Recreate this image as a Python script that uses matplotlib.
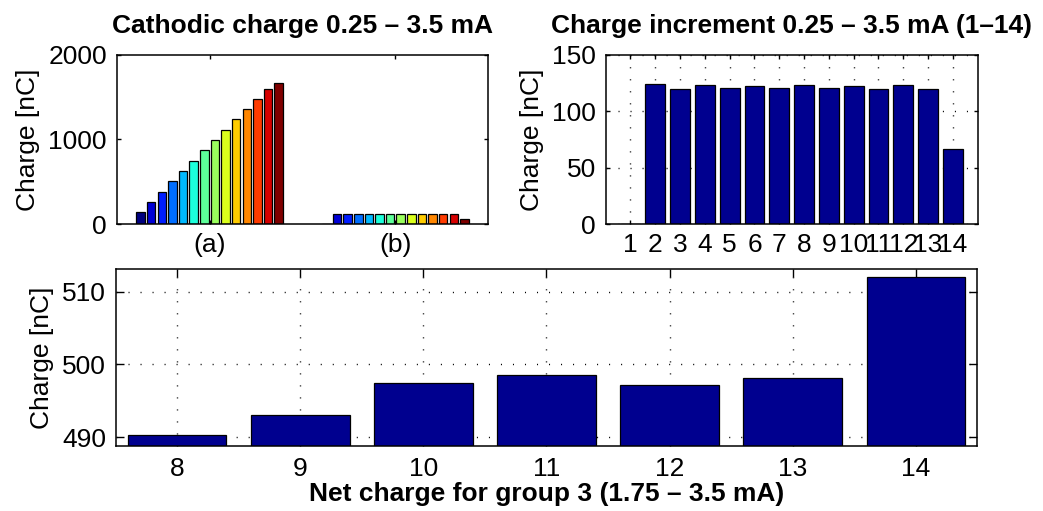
import numpy as np
import matplotlib
matplotlib.use("Agg")
import matplotlib.pyplot as plt

plt.rcParams["font.family"] = ["Liberation Sans", "DejaVu Sans"]

# cathodic charge per step, group (a) and increments, group (b)
group_labels = ["(a)", "(b)"]
cathodic_charge = [141, 265, 385, 508, 628, 750, 871, 994, 1114, 1236, 1356, 1479, 1599, 1665]
charge_increment = [0, 123.8, 119.9, 123.2, 120.5, 122.0, 120.2, 122.9, 120.2, 122.5, 119.6, 123.5, 119.6, 66.3]
step_numbers = list(range(1, 15))

net_steps = [8, 9, 10, 11, 12, 13, 14]
net_charge = [490.3, 493.0, 497.4, 498.5, 497.2, 498.2, 512.0]

navy = (0, 0, 0.5625)
fs = 19
tick_fs = 19


def style_axes(ax, ticklen):
    for s in ax.spines.values():
        s.set_linewidth(1.1)
    ax.tick_params(direction="in", top=True, right=True, length=ticklen, width=1.0,
                   labelsize=tick_fs, colors="black")
    ax.tick_params(axis="y", pad=7)


def dotted_grid(ax):
    ax.set_axisbelow(True)
    ax.grid(True, color="black", linewidth=1.0, linestyle=(0, (0.75, 7.9)))


fig = plt.figure(figsize=(10.43, 5.11), dpi=100)

# top left: grouped bars, jet colours
ax1 = fig.add_axes([0.1119, 0.5611, 0.3563, 0.3319])
n = len(cathodic_charge)
colors = plt.colormaps["jet"](np.linspace(0, 1, n))
slot = 0.8 / n
groups = np.array([1, 2])
for i in range(n):
    vals = [cathodic_charge[i], charge_increment[i]]
    ax1.bar(groups + (i - (n - 1) / 2) * slot, vals, width=0.8 * slot,
            color=colors[i], edgecolor="black", linewidth=0.9)
ax1.set_xlim(0.5, 2.5)
ax1.set_ylim(0, 2000)
ax1.set_xticks(groups)
ax1.set_xticklabels(group_labels)
ax1.set_yticks([0, 1000, 2000])
ax1.set_ylabel("Charge [nC]", fontsize=fs, labelpad=6)
ax1.set_title("Cathodic charge 0.25 \u2013 3.5 mA", fontsize=fs, fontweight="bold", pad=15.5)
style_axes(ax1, 3)
ax1.tick_params(axis="x", pad=6)

# top right: increments
ax2 = fig.add_axes([0.5807, 0.5611, 0.3567, 0.3319])
ax2.bar(step_numbers, charge_increment, width=0.8, color=navy, edgecolor="black", linewidth=0.9)
ax2.set_xlim(0, 15)
ax2.set_ylim(0, 150)
ax2.set_xticks(step_numbers)
ax2.set_yticks([0, 50, 100, 150])
ax2.set_ylabel("Charge [nC]", fontsize=fs, labelpad=6)
ax2.set_title("Charge increment 0.25 \u2013 3.5 mA (1\u201314)", fontsize=fs, fontweight="bold", pad=15.5)
dotted_grid(ax2)
style_axes(ax2, 3)
ax2.tick_params(axis="x", pad=6)

# bottom: net charge group 3
ax3 = fig.add_axes([0.1109, 0.1278, 0.8261, 0.3458])
ax3.bar(net_steps, net_charge, width=0.8, color=navy, edgecolor="black", linewidth=0.9)
ax3.set_xlim(7.5, 14.5)
ax3.set_ylim(488.85, 513.1)
ax3.set_xticks(net_steps)
ax3.set_yticks([490, 500, 510])
ax3.set_ylabel("Charge [nC]", fontsize=fs, labelpad=6)
ax3.set_xlabel("Net charge for group 3 (1.75 \u2013 3.5 mA)", fontsize=fs, fontweight="bold", labelpad=1)
dotted_grid(ax3)
style_axes(ax3, 6)
ax3.tick_params(axis="x", pad=8)

fig.savefig("out.png", dpi=100)
